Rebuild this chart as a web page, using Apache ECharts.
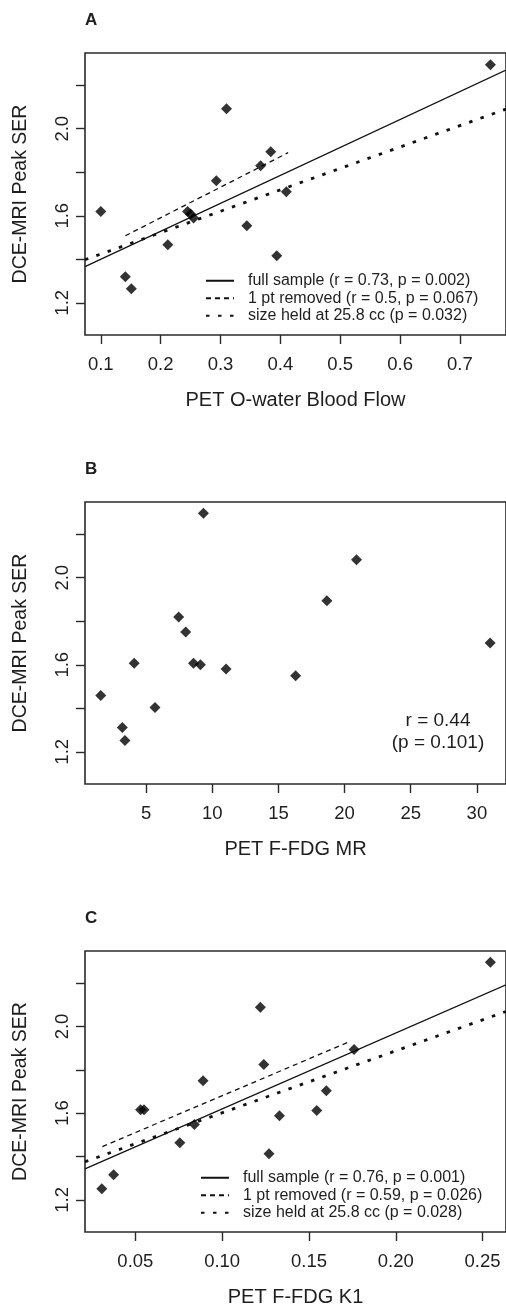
<!DOCTYPE html>
<html><head><meta charset="utf-8">
<script src="https://cdn.jsdelivr.net/npm/echarts@6/dist/echarts.min.js"></script>
<style>html,body{margin:0;padding:0;background:#fff}#c{width:506px;height:1308px}</style>
</head><body><div id="c"></div>
<script>
// ---------- data ----------
const panelLetters = ['A', 'B', 'C'];
const xTitles = ['PET O-water Blood Flow', 'PET F-FDG MR', 'PET F-FDG K1'];
const yTitle = 'DCE-MRI Peak SER';
const yRange = [1.052, 2.348];
const yTicks = [1.2, 1.4, 1.6, 1.8, 2.0, 2.2];
const yTickLabels = [1.2, 1.6, 2.0];

const xRangeA = [0.0736, 0.777];
const xTicksA = [0.1, 0.2, 0.3, 0.4, 0.5, 0.6, 0.7];
const xRangeB = [0.38, 32.2];
const xTicksB = [5, 10, 15, 20, 25, 30];
const xRangeC = [0.021, 0.2635];
const xTicksC = [0.05, 0.10, 0.15, 0.20, 0.25];

const flowA = [0.100, 0.141, 0.151, 0.212, 0.245, 0.250, 0.255, 0.293, 0.310, 0.344, 0.367, 0.384, 0.394, 0.410, 0.751];
const serA  = [1.620, 1.320, 1.265, 1.467, 1.620, 1.608, 1.590, 1.761, 2.092, 1.554, 1.830, 1.894, 1.416, 1.710, 2.294];

const mrB  = [1.57, 3.20, 3.40, 4.10, 5.67, 7.46, 7.99, 8.58, 9.10, 9.33, 11.04, 16.30, 18.66, 20.90, 31.00];
const serB = [1.459, 1.312, 1.252, 1.607, 1.404, 1.820, 1.750, 1.607, 1.600, 2.296, 1.580, 1.550, 1.894, 2.083, 1.700];

const k1C  = [0.0307, 0.0375, 0.0530, 0.0550, 0.0756, 0.0840, 0.0890, 0.1220, 0.1240, 0.1270, 0.1330, 0.1545, 0.1600, 0.1760, 0.2545];
const serC = [1.251, 1.316, 1.616, 1.616, 1.464, 1.548, 1.750, 2.088, 1.824, 1.413, 1.588, 1.612, 1.704, 1.894, 2.296];

const fitFullA = [[0.0736, 1.366], [0.777, 2.270]];
const fitDropA = [[0.141, 1.508], [0.413, 1.890]];
const fitSizeA = [[0.0736, 1.398], [0.777, 2.090]];
const fitFullC = [[0.021, 1.343], [0.2635, 2.192]];
const fitDropC = [[0.031, 1.446], [0.174, 1.932]];
const fitSizeC = [[0.021, 1.376], [0.2635, 2.069]];

const legendA = ['full sample (r = 0.73, p = 0.002)', '1 pt removed (r = 0.5, p = 0.067)', 'size held at 25.8 cc (p = 0.032)'];
const legendC = ['full sample (r = 0.76, p = 0.001)', '1 pt removed (r = 0.59, p = 0.026)', 'size held at 25.8 cc (p = 0.028)'];
const statB = ['r = 0.44', '(p = 0.101)'];

// ---------- chart ----------
const FONT = '"Liberation Sans", Arial, Helvetica, sans-serif';
const INK = '#1e1e1e';
const chart = echarts.init(document.getElementById('c'), null, {renderer: 'canvas'});

const tops = [53, 502, 951];
const grids = tops.map(t => ({left: 85, top: t, width: 427, height: 282, show: true,
  borderColor: '#2a2a2a', borderWidth: 1.6, backgroundColor: 'transparent', containLabel: false}));

function xAxis(i, range, ticks, dec) {
  return {type: 'value', gridIndex: i, min: range[0], max: range[1],
    axisLine: {show: false, onZero: false},
    axisTick: {show: true, length: 9, inside: false, customValues: ticks, lineStyle: {color: '#2a2a2a', width: 1.4}},
    axisLabel: {customValues: ticks, fontSize: 18.5, margin: 20, color: INK, fontFamily: FONT,
      formatter: v => dec === 0 ? String(Math.round(v)) : Number(v).toFixed(dec)},
    splitLine: {show: false},
    name: xTitles[i], nameLocation: 'middle', nameGap: 55,
    nameTextStyle: {fontSize: 20, color: INK, fontFamily: FONT}};
}
function yAxis(i) {
  return {type: 'value', gridIndex: i, min: yRange[0], max: yRange[1],
    axisLine: {show: false, onZero: false},
    axisTick: {show: true, length: 9, inside: false, customValues: yTicks, lineStyle: {color: '#2a2a2a', width: 1.4}},
    axisLabel: {customValues: yTickLabels, rotate: 90, fontSize: 18.5, margin: 13, color: INK, fontFamily: FONT,
      formatter: v => Number(v).toFixed(1)},
    splitLine: {show: false},
    name: yTitle, nameLocation: 'middle', nameRotate: 90, nameGap: 54,
    nameTextStyle: {fontSize: 19.5, color: INK, fontFamily: FONT}};
}

function pts(xs, ys) { return xs.map((x, k) => [x, ys[k]]); }
function scatter(i, xs, ys) {
  return {type: 'scatter', name: 'pts' + i, xAxisIndex: i, yAxisIndex: i, data: pts(xs, ys),
    symbol: 'diamond', symbolSize: 11, itemStyle: {color: '#000'}, silent: true, z: 5};
}
function fit(i, name, data, style) {
  return Object.assign({type: 'line', name: name, xAxisIndex: i, yAxisIndex: i, data: data,
    symbol: 'none', showSymbol: false, silent: true, z: 3, itemStyle: {color: '#111'}}, style);
}
const solid = {lineStyle: {color: '#111', width: 1.3, type: 'solid'}};
const dashed = {lineStyle: {color: '#111', width: 1.3, type: [5, 4]}};
const dotted = {lineStyle: {color: '#111', width: 2.8, type: [3.5, 8.5]}};

function legend(left, top, names) {
  return {left: left, top: top, orient: 'vertical', data: names, padding: 0,
    itemWidth: 28, itemHeight: 10, itemGap: 0, selectedMode: false,
    itemStyle: {opacity: 0},
    textStyle: {fontSize: 16, color: INK, fontFamily: FONT, lineHeight: 17.5, padding: [0, 0, 0, 9]}};
}

const option = {
  animation: false,
  backgroundColor: '#fff',
  title: panelLetters.map((l, i) => ({text: l, left: 85, top: tops[i] - 41, padding: 0,
    textStyle: {fontSize: 17, fontWeight: 'bold', color: INK, fontFamily: FONT}})),
  grid: grids,
  xAxis: [xAxis(0, xRangeA, xTicksA, 1), xAxis(1, xRangeB, xTicksB, 0), xAxis(2, xRangeC, xTicksC, 2)],
  yAxis: [yAxis(0), yAxis(1), yAxis(2)],
  legend: [legend(205, 272, legendA), legend(200, 1169, legendC)],
  series: [
    fit(0, legendA[0], fitFullA, solid),
    fit(0, legendA[1], fitDropA, dashed),
    fit(0, legendA[2], fitSizeA, dotted),
    scatter(0, flowA, serA),
    scatter(1, mrB, serB),
    fit(2, legendC[0], fitFullC, solid),
    fit(2, legendC[1], fitDropC, dashed),
    fit(2, legendC[2], fitSizeC, dotted),
    scatter(2, k1C, serC)
  ],
  graphic: statB.map((s, k) => ({type: 'text', x: 438, y: 721 + k * 22,
    style: {text: s, fill: INK, font: '19px ' + FONT, textAlign: 'center', textVerticalAlign: 'middle'}}))
};
chart.setOption(option);
</script></body></html>
